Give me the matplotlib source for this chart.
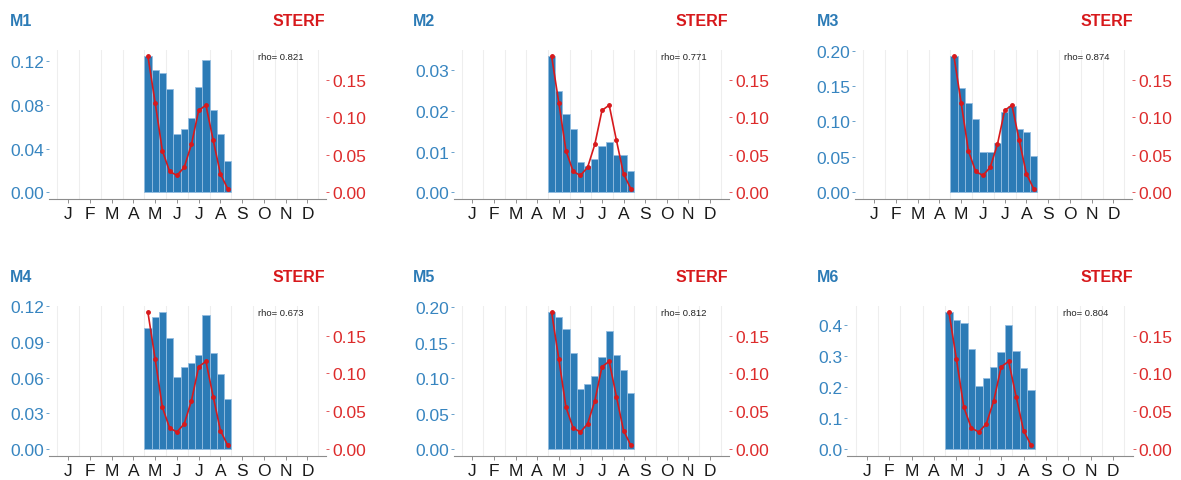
import matplotlib
matplotlib.use("Agg")
import matplotlib.pyplot as plt
import numpy as np

plt.rcParams['font.family'] = ['Liberation Sans', 'DejaVu Sans']

# Month tick labels and the 12 dekads (10-day periods) from May to August
month_labels = ['J', 'F', 'M', 'A', 'M', 'J', 'J', 'A', 'S', 'O', 'N', 'D']
first_month = 4          # May (0 = January)
n_dekads = 12

# Reference series (right axis)
sterf = [0.181, 0.119, 0.055, 0.0277, 0.0225, 0.0332,
         0.0637, 0.109, 0.116, 0.0695, 0.0244, 0.0049]

# Model series (left axis, bars)
m1 = [0.1246, 0.1120, 0.1091, 0.0950, 0.0532, 0.0580, 0.0679, 0.0969, 0.1214, 0.0752, 0.0533, 0.0289]
m2 = [0.0334, 0.0250, 0.0192, 0.0156, 0.0074, 0.0064, 0.0081, 0.0113, 0.0124, 0.0092, 0.0092, 0.0053]
m3 = [0.1920, 0.1468, 0.1266, 0.1040, 0.0574, 0.0574, 0.0701, 0.1139, 0.1214, 0.0899, 0.0856, 0.0508]
m4 = [0.1021, 0.1107, 0.1150, 0.0931, 0.0606, 0.0687, 0.0723, 0.0793, 0.1124, 0.0810, 0.0628, 0.0423]
m5 = [0.1929, 0.1859, 0.1689, 0.1355, 0.0842, 0.0913, 0.1031, 0.1299, 0.1666, 0.1322, 0.1111, 0.0795]
m6 = [0.4409, 0.4161, 0.4065, 0.3237, 0.2032, 0.2280, 0.2645, 0.3118, 0.3989, 0.3151, 0.2613, 0.1892]

model_names = ['M1', 'M2', 'M3', 'M4', 'M5', 'M6']
model_values = [m1, m2, m3, m4, m5, m6]
rho_values = [0.821, 0.771, 0.874, 0.673, 0.812, 0.804]
left_ticks = [
    [0.00, 0.04, 0.08, 0.12],
    [0.00, 0.01, 0.02, 0.03],
    [0.00, 0.05, 0.10, 0.15, 0.20],
    [0.00, 0.03, 0.06, 0.09, 0.12],
    [0.00, 0.05, 0.10, 0.15, 0.20],
    [0.0, 0.1, 0.2, 0.3, 0.4],
]
left_fmt = ['{:.2f}'] * 5 + ['{:.1f}']
right_ticks = [0.00, 0.05, 0.10, 0.15]

BLUE = '#2C7BB6'
RED = '#D7191C'

W, H = 1181, 481
fig = plt.figure(figsize=(W / 100, H / 100), dpi=100)

# Panel geometry in pixels: x of Jan 1 and of the year end, panel top/bottom
panel_x = [(57.3, 318.3), (461.7, 720.7), (863.3, 1124.3),
           (57.3, 318.3), (461.7, 720.7), (855.7, 1124.3)]
row_y = [(50.5, 200.1), (306.5, 456.8)]
title_left = [10, 413.3, 816.7]
title_right = [325, 728.3, 1132.7]
title_base = [26.0, 282.3]
pad = 0.37

dekad_left = first_month + np.arange(n_dekads) / 3.0
dekad_mid = dekad_left + 1 / 6.0
sterf_max = max(sterf)

for i, (name, vals) in enumerate(zip(model_names, model_values)):
    r, c = divmod(i, 3)
    x0, x1 = panel_x[i]
    mpx = (x1 - x0) / 12.0
    left = x0 - pad * mpx
    width = (12 + 2 * pad) * mpx
    top, bot = row_y[r]
    ax = fig.add_axes([left / W, 1 - bot / H, width / W, (bot - top) / H])

    vmax = max(vals)
    ax.set_xlim(-pad, 12 + pad)
    ax.set_ylim(-0.05 * vmax, 1.05 * vmax)

    for m in range(13):
        ax.axvline(m, color='#EEEEEE', lw=0.8, zorder=0)

    ax.bar(dekad_left, vals, width=1 / 3.0, align='edge', color=BLUE,
           edgecolor='#93BDE0', linewidth=0.6, zorder=2)

    ax.set_xticks(np.arange(12) + 0.5)
    ax.set_xticklabels(month_labels)
    ax.tick_params(axis='x', colors='#7F7F7F', length=3, width=0.6, pad=2,
                   labelsize=12.5, labelcolor='#1A1A1A')
    ax.set_yticks(left_ticks[i])
    ax.set_yticklabels([left_fmt[i].format(t) for t in left_ticks[i]])
    ax.tick_params(axis='y', colors=BLUE, length=2.5, width=0.5, pad=1,
                   labelsize=12.5, labelcolor='#3785C0')
    for s in ['left', 'right', 'top']:
        ax.spines[s].set_visible(False)
    ax.spines['bottom'].set_color('#8C8C8C')
    ax.spines['bottom'].set_linewidth(0.8)
    ax.patch.set_alpha(0)

    ax.text(10.29, vmax, f'rho= {rho_values[i]:.3f}', fontsize=6.8,
            ha='center', va='center', color='#222222', zorder=5)

    ax2 = ax.twinx()
    ax2.set_ylim(-0.05 * sterf_max, 1.05 * sterf_max)
    ax2.plot(dekad_mid, sterf, color=RED, lw=1.2, marker='o', ms=2.5, zorder=3)
    ax2.set_yticks(right_ticks)
    ax2.set_yticklabels([f'{t:.2f}' for t in right_ticks])
    ax2.tick_params(axis='y', colors=RED, length=2.5, width=0.5, pad=2,
                    labelsize=12.5, labelcolor='#DD2B2B')
    for s in ax2.spines.values():
        s.set_visible(False)

    fig.text(title_left[c] / W, 1 - title_base[r] / H, name, color=BLUE,
             fontsize=11.5, fontweight='bold', ha='left', va='baseline')
    fig.text(title_right[c] / W, 1 - title_base[r] / H, 'STERF', color=RED,
             fontsize=11.5, fontweight='bold', ha='right', va='baseline')

fig.savefig('out.png', dpi=100, facecolor='white')
